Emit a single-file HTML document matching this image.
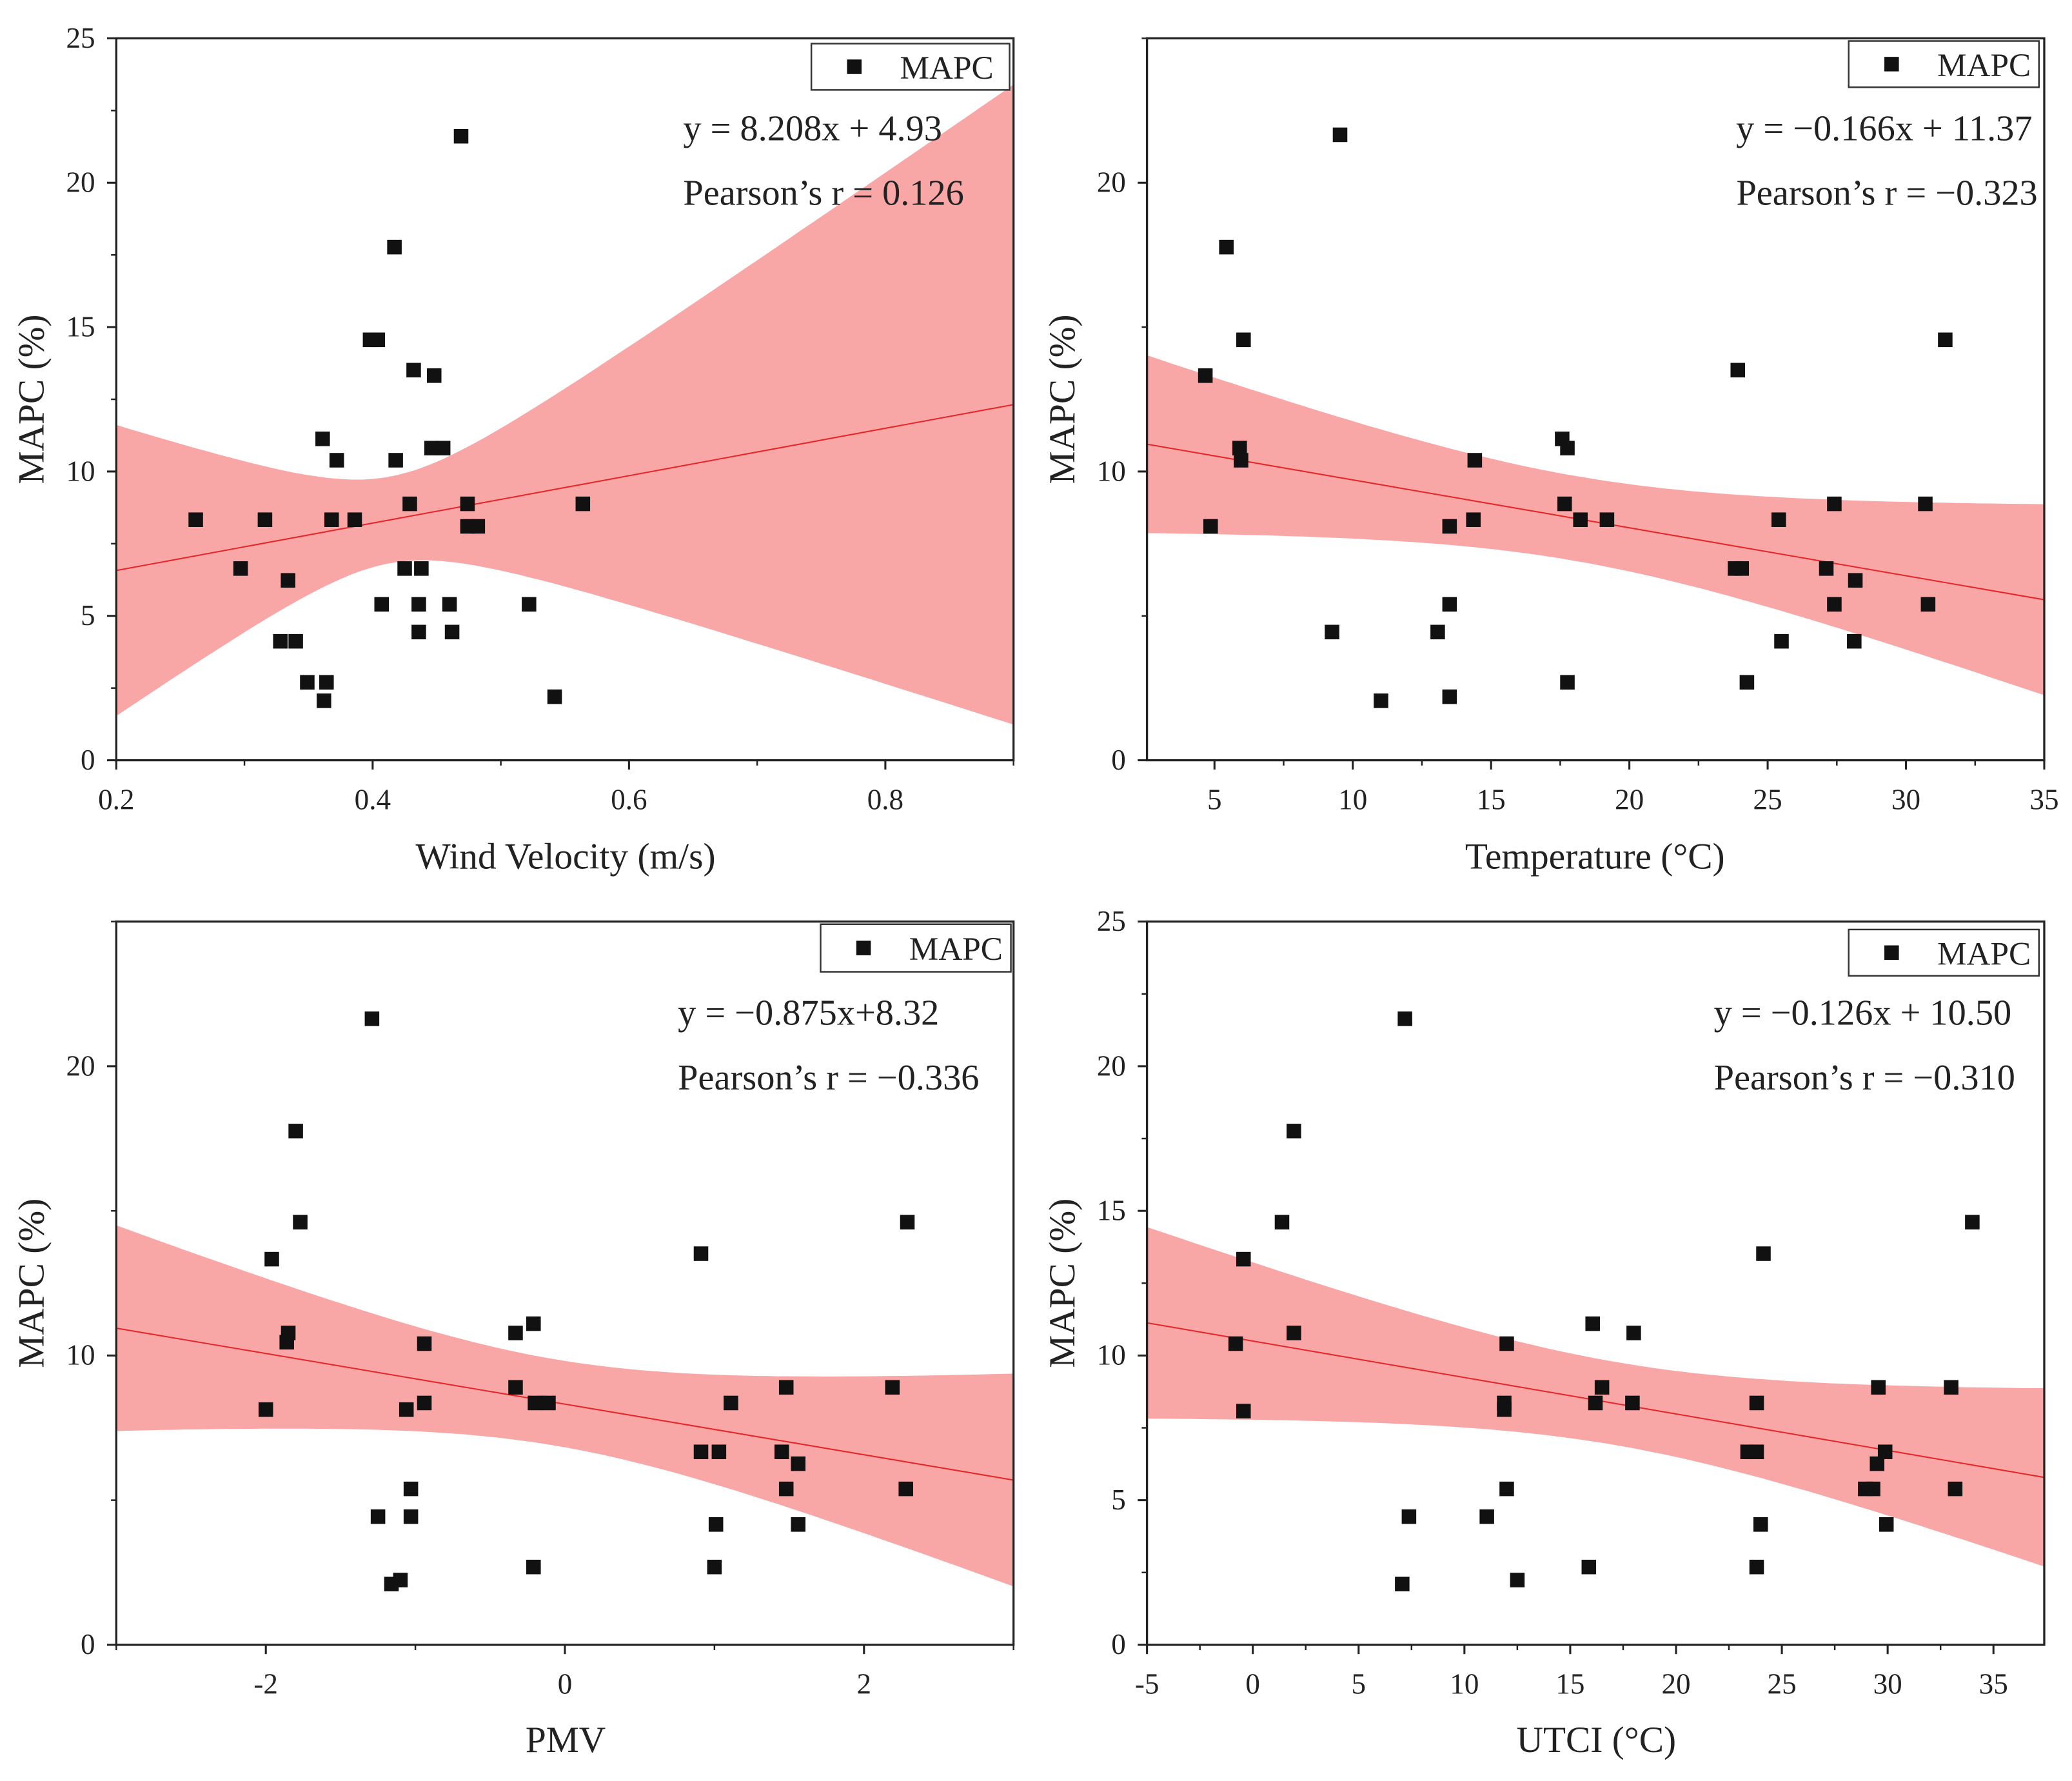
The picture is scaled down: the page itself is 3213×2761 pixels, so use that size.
<!DOCTYPE html>
<html><head><meta charset="utf-8"><style>
html,body{margin:0;padding:0;background:#fff;}
svg{display:block;}
text{font-family:"Liberation Serif",serif;fill:#222;}
</style></head><body>
<svg id="fig" width="3213" height="2761" viewBox="0 0 1568 1347" preserveAspectRatio="none" xmlns="http://www.w3.org/2000/svg"></svg>
<script>
// ---- data ----
const mapcWind = [8.33,6.64,8.33,6.23,4.12,4.12,2.70,2.70,2.06,11.13,10.39,8.33,8.33,14.56,14.56,17.77,10.39,5.40,6.64,8.88,13.51,6.64,5.40,4.44,13.32,10.81,10.81,5.40,4.44,21.61,8.88,8.10,8.10,5.40,2.20,8.88];
const windVelocity = [0.262,0.297,0.316,0.334,0.328,0.340,0.349,0.364,0.362,0.361,0.372,0.368,0.386,0.398,0.404,0.417,0.418,0.407,0.425,0.429,0.432,0.438,0.436,0.436,0.448,0.446,0.455,0.460,0.462,0.469,0.474,0.474,0.482,0.522,0.542,0.564];
const temperature = [4.67,4.86,5.43,6.05,5.91,5.96,9.25,9.54,11.02,13.07,13.50,13.50,13.50,14.36,14.41,17.57,17.76,17.66,17.76,18.23,19.19,23.92,23.82,24.06,24.25,25.40,25.50,27.12,27.41,27.41,28.17,28.13,30.70,30.80,31.42];
const mapcTemp = [13.32,8.10,17.77,14.56,10.81,10.39,4.44,21.66,2.06,4.44,5.40,8.10,2.20,8.33,10.39,11.13,10.81,8.88,2.70,8.33,8.33,13.51,6.64,6.64,2.70,8.33,4.12,6.64,8.88,5.40,6.23,4.12,8.88,5.40,14.56];
const pmv = [-1.29,-1.80,-1.77,-1.96,-1.85,-1.86,-2.0,-1.25,-1.16,-1.10,-1.06,-1.03,-1.03,-0.94,-0.94,-0.33,-0.33,-0.21,-0.20,-0.11,-0.21,0.91,0.91,1.03,1.01,1.0,1.11,1.45,1.48,1.48,1.56,1.56,2.19,2.29,2.28];
const mapcPmv = [21.64,17.76,14.61,13.33,10.78,10.46,8.13,4.43,2.10,2.24,8.13,5.39,4.43,10.41,8.36,10.78,8.90,11.10,8.36,8.36,2.69,13.52,6.67,6.67,4.16,2.69,8.36,6.67,8.90,5.39,6.26,4.16,8.90,14.61,5.39];
const utci = [7.19,1.94,1.38,-0.44,1.94,-0.81,-0.44,7.38,7.06,12.5,11.06,12.0,12.0,11.88,11.88,16.06,16.5,16.19,15.88,17.94,18.0,24.13,23.38,23.81,23.81,24.0,23.81,29.56,28.94,29.31,29.5,29.88,29.94,33.0,33.19,34.0];
const mapcUtci = [21.64,17.76,14.61,13.33,10.78,10.41,8.08,4.43,2.10,2.24,4.43,5.39,10.41,8.36,8.13,11.10,8.90,8.36,2.69,8.36,10.78,13.52,6.67,6.67,8.36,4.16,2.69,8.90,5.39,5.39,6.26,6.67,4.16,8.90,5.39,14.61];
const fitSlopes = [8.208,-0.166,-0.875,-0.126];
const fitIntercepts = [4.93,11.37,8.32,10.50];
const eqLabels = ["y = 8.208x + 4.93","y = \u22120.166x + 11.37","y = \u22120.875x+8.32","y = \u22120.126x + 10.50"];
const rLabels = ["Pearson\u2019s r = 0.126","Pearson\u2019s r = \u22120.323","Pearson\u2019s r = \u22120.336","Pearson\u2019s r = \u22120.310"];
const xTitles = ["Wind Velocity (m/s)","Temperature (\u00b0C)","PMV","UTCI (\u00b0C)"];
const xTickVals = [[0.2,0.4,0.6,0.8],[5,10,15,20,25,30,35],[-2,0,2],[-5,0,5,10,15,20,25,30,35]];
const xTickLabels = [["0.2","0.4","0.6","0.8"],["5","10","15","20","25","30","35"],["-2","0","2"],["-5","0","5","10","15","20","25","30","35"]];
const xMinorVals = [[0.3,0.5,0.7,0.9],[2.5,7.5,12.5,17.5,22.5,27.5,32.5],[-3,-1,1,3],[-2.5,2.5,7.5,12.5,17.5,22.5,27.5,32.5,37.5]];
const yTickVals = [[0,5,10,15,20,25],[0,10,20],[0,10,20],[0,5,10,15,20,25]];
const yMinorVals = [[2.5,7.5,12.5,17.5,22.5],[5,15,25],[5,15,25],[2.5,7.5,12.5,17.5,22.5]];

// ---- layout ----
const panels = [
 {x0:88,x1:767,y0:29,y1:575,xmin:0.2,xmax:0.9,xs:windVelocity,ys:mapcWind,eqX:517,eqX2:517,eqAnchor:"start",eqY:106,leg:[614,33,150,35],xtY:657,xtX:428},
 {x0:868,x1:1547,y0:29,y1:575,xmin:2.56,xmax:35,xs:temperature,ys:mapcTemp,eqX:1538,eqX2:1542,eqAnchor:"end",eqY:106,leg:[1399,31,144,35],xtY:657,xtX:1207},
 {x0:88,x1:767,y0:697,y1:1244,xmin:-3,xmax:3,xs:pmv,ys:mapcPmv,eqX:513,eqX2:513,eqAnchor:"start",eqY:775,leg:[621,699,144,36],xtY:1325,xtX:428},
 {x0:868,x1:1547,y0:697,y1:1244,xmin:-5,xmax:37.4,xs:utci,ys:mapcUtci,eqX:1297,eqX2:1297,eqAnchor:"start",eqY:775,leg:[1399,703,144,35],xtY:1325,xtX:1208}
];
const NS="http://www.w3.org/2000/svg";
const svg=document.getElementById('fig');
function mk(tag,attrs,parent){const e=document.createElementNS(NS,tag);for(const k in attrs)e.setAttribute(k,attrs[k]);(parent||svg).appendChild(e);return e;}

panels.forEach((p,i)=>{
  const g=mk('g',{});
  
  
  const sx=v=>p.x0+(v-p.xmin)/(p.xmax-p.xmin)*(p.x1-p.x0);
  const sy=v=>p.y1-(v/25)*(p.y1-p.y0);
  const cp=mk('clipPath',{id:'cp'+i},g);
  mk('rect',{x:p.x0,y:p.y0,width:p.x1-p.x0,height:p.y1-p.y0},cp);
  const a=fitIntercepts[i], b=fitSlopes[i], n=p.xs.length;
  const xm=p.xs.reduce((s,v)=>s+v,0)/n;
  let sxx=0,sse=0;
  p.xs.forEach((x,k)=>{sxx+=(x-xm)*(x-xm);const r=p.ys[k]-(a+b*x);sse+=r*r;});
  const se=Math.sqrt(sse/(n-2)), t=2.03;
  const up=[],lo=[];
  for(let k=0;k<=80;k++){const x=p.xmin+(p.xmax-p.xmin)*k/80;const hw=t*se*Math.sqrt(1/n+(x-xm)*(x-xm)/sxx);const yl=a+b*x;
    up.push(sx(x).toFixed(1)+','+sy(yl+hw).toFixed(1));lo.unshift(sx(x).toFixed(1)+','+sy(yl-hw).toFixed(1));}
  const band=mk('polygon',{points:up.concat(lo).join(' '),fill:'#f9a6a6','clip-path':'url(#cp'+i+')'},g);
  
  
  const fl=mk('line',{x1:sx(p.xmin),y1:sy(a+b*p.xmin),x2:sx(p.xmax),y2:sy(a+b*p.xmax),stroke:'#e8262a','stroke-width':1,'clip-path':'url(#cp'+i+')'},g);
  
  
  p.xs.forEach((x,k)=>{
    const r=mk('rect',{x:sx(x)-5.5,y:sy(p.ys[k])-5.5,width:11,height:11,fill:'#111'},g);
    
    
  });
  const fr=mk('rect',{x:p.x0,y:p.y0,width:p.x1-p.x0,height:p.y1-p.y0,fill:'none',stroke:'#222','stroke-width':1.6},g);
  
  
  xTickVals[i].forEach((v,k)=>{
    mk('line',{x1:sx(v),x2:sx(v),y1:p.y1,y2:p.y1+7,stroke:'#222','stroke-width':1.5},g);
    const tl=mk('text',{x:sx(v),y:p.y1+37,'text-anchor':'middle','font-size':22},g);
    tl.textContent=xTickLabels[i][k];
    
    
  });
  xMinorVals[i].forEach(v=>{if(v>=p.xmin&&v<=p.xmax+1e-6)mk('line',{x1:sx(v),x2:sx(v),y1:p.y1,y2:p.y1+4,stroke:'#222','stroke-width':1.2},g);});
  yTickVals[i].forEach(v=>{
    mk('line',{x1:p.x0-7,x2:p.x0,y1:sy(v),y2:sy(v),stroke:'#222','stroke-width':1.5},g);
    const tl=mk('text',{x:p.x0-16,y:sy(v)+7,'text-anchor':'end','font-size':22},g);
    tl.textContent=String(v);
    
    
  });
  yMinorVals[i].forEach(v=>{mk('line',{x1:p.x0-4,x2:p.x0,y1:sy(v),y2:sy(v),stroke:'#222','stroke-width':1.2},g);});
  const xt=mk('text',{x:p.xtX,y:p.xtY,'text-anchor':'middle','font-size':28},g);
  xt.textContent=xTitles[i];
  
  
  const ycx=p.x0-55, ycy=(p.y0+p.y1)/2;
  const yt=mk('text',{x:ycx,y:ycy,'text-anchor':'middle','font-size':28,transform:'rotate(-90 '+ycx+' '+ycy+')'},g);
  yt.textContent='MAPC (%)';
  
  
  const e1=mk('text',{x:p.eqX,y:p.eqY,'text-anchor':p.eqAnchor,'font-size':27.5},g);
  e1.textContent=eqLabels[i];
  
  
  const e2=mk('text',{x:p.eqX2,y:p.eqY+49,'text-anchor':p.eqAnchor,'font-size':27.5},g);
  e2.textContent=rLabels[i];
  
  
  const L=p.leg;
  const lg=mk('g',{},g);
  
  
  mk('rect',{x:L[0],y:L[1],width:L[2],height:L[3],fill:'#fff',stroke:'#333','stroke-width':1.2},lg);
  mk('rect',{x:L[0]+27,y:L[1]+L[3]/2-5.5,width:11,height:11,fill:'#111'},lg);
  const lt=mk('text',{x:L[0]+67,y:L[1]+L[3]/2+9,'font-size':25},lg);
  lt.textContent='MAPC';
  
  
});
</script>
</body></html>
